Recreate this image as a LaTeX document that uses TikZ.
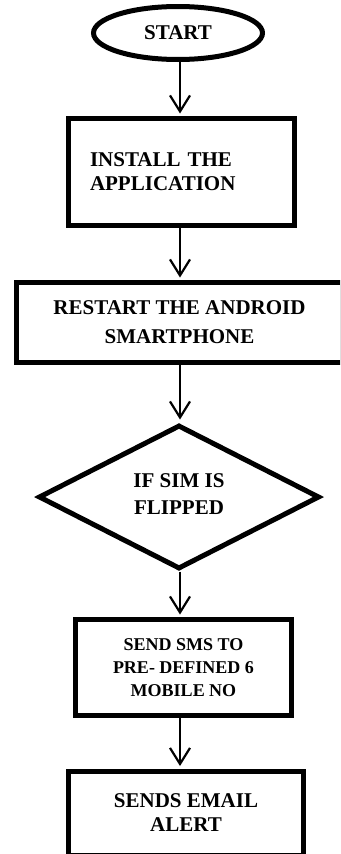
\documentclass[tikz,border=0pt]{standalone}
\usepackage{fontspec}
\setmainfont{Liberation Serif}
\usetikzlibrary{shapes.geometric,arrows.meta}
\begin{document}
\begin{tikzpicture}[x=1pt,y=-1pt,
  shapebox/.style={draw,line width=5pt,inner sep=0pt,align=center,
    font=\bfseries\fontsize{21}{24}\selectfont},
  arr/.style={line width=2.2pt,shorten >=2.5pt,
    -{Straight Barb[length=16pt,width=20pt]}}]
\useasboundingbox (0,0) rectangle (340,854);
\clip (0,0) rectangle (340,854);

\node[shapebox,ellipse,minimum width=169pt,minimum height=53pt] (start) at (178,33) {START};

\node[shapebox,rectangle,minimum width=226pt,minimum height=107pt,
  inner xsep=21.5pt,text width=183pt,align=left] (b1) at (181.5,172) {INSTALL THE\\APPLICATION};

\node[shapebox,rectangle,minimum width=326pt,minimum height=80pt,
  font=\bfseries\fontsize{21}{29}\selectfont] (b2) at (179.5,322.5) {RESTART THE ANDROID\\SMARTPHONE};

\node[shapebox,diamond,aspect=2,minimum width=281pt,minimum height=144pt,
  font=\bfseries\fontsize{21}{27}\selectfont] (d) at (179,497) {IF SIM IS\\FLIPPED\\[-21pt]\mbox{}};

\node[shapebox,rectangle,minimum width=216pt,minimum height=96pt,
  font=\bfseries\fontsize{18}{23}\selectfont] (b3) at (183.5,667.5) {SEND SMS TO\\PRE- DEFINED 6\\MOBILE NO};

\node[shapebox,rectangle,minimum width=235pt,minimum height=84pt] (b4) at (186,813) {SENDS EMAIL\\ALERT};

\coordinate (ax) at (180,0);
\draw[arr] (start.south -| ax) -- (b1.north -| ax);
\draw[arr] (b1.south -| ax) -- (b2.north -| ax);
\draw[arr,shorten >=3pt] (b2.south -| ax) -- (d.north -| ax);
\draw[arr] (d.south -| ax) -- (b3.north -| ax);
\draw[arr] (b3.south -| ax) -- (b4.north -| ax);
\end{tikzpicture}
\end{document}
